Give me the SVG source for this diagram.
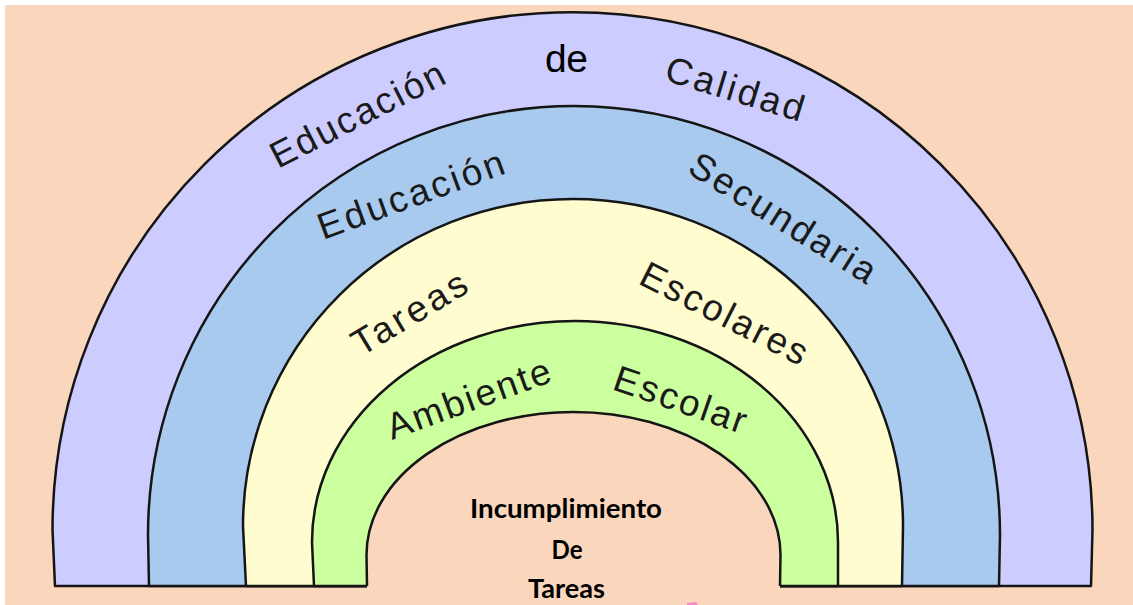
<svg xmlns="http://www.w3.org/2000/svg" width="1133" height="605" viewBox="0 0 1133 605">
  <style>
    .ring { stroke: #151515; stroke-width: 2.5; stroke-linejoin: round; }
    .edge { fill: none; stroke: #151515; stroke-width: 2.5; stroke-linejoin: round; }
    .lbl { font-family: "Liberation Sans", Arial, sans-serif; font-size: 37px; fill: #1a1a1a; }
    .core { font-family: Lato, "Open Sans", sans-serif; font-weight: bold; font-size: 27px; fill: #000; text-anchor: middle; }
  </style>
  <rect x="0" y="0" width="1133" height="605" fill="#ffffff"/>
  <rect x="5" y="5" width="1128" height="600" fill="#F9D6BC"/>

  <g id="ring-calidad">
    <path class="ring" fill="#CCCCFF" d="M55,586 L52.5,530 A520,518 0 0 1 1092.5,530 L1091,586 Z"/>
    <text class="lbl" transform="translate(278,169) rotate(-27)" textLength="191" lengthAdjust="spacing">Educación</text>
    <text class="lbl" x="545" y="72" style="font-size:39px;fill:#000" textLength="43" lengthAdjust="spacing">de</text>
    <text class="lbl" transform="translate(663,80) rotate(17)" textLength="143" lengthAdjust="spacing">Calidad</text>
  </g>

  <g id="ring-secundaria">
    <path class="ring" fill="#A7CAEE" d="M149,586 L148,535 A426,429 0 0 1 1000,535 L999,586 Z"/>
    <text class="lbl" transform="translate(323,240) rotate(-20)" textLength="196" lengthAdjust="spacing">Educación</text>
    <text class="lbl" transform="translate(686,172) rotate(32)" textLength="213" lengthAdjust="spacing">Secundaria</text>
  </g>

  <g id="ring-tareas">
    <path class="ring" fill="#FFFCCF" d="M246,586 L243,526 A330,327 0 0 1 903,526 L902,586 Z"/>
    <text class="lbl" transform="translate(361,357) rotate(-31)" textLength="128" lengthAdjust="spacing">Tareas</text>
    <text class="lbl" transform="translate(637,283) rotate(27)" textLength="183" lengthAdjust="spacing">Escolares</text>
  </g>

  <g id="ring-ambiente">
    <path class="ring" fill="#CCFF9D" d="M314,586 L312,542 A263,221 0 0 1 838,542 L838,586 Z"/>
    <text class="lbl" transform="translate(392,440) rotate(-20)" textLength="172" lengthAdjust="spacing">Ambiente</text>
    <text class="lbl" transform="translate(611,389) rotate(19)" textLength="138" lengthAdjust="spacing">Escolar</text>
  </g>

  <g id="core-incumplimiento">
    <path fill="#F9D6BC" d="M367,590 L367,586 L366.5,555 A207,143 0 0 1 780.5,555 L780,586 L780,590 Z"/>
    <path class="edge" d="M367,586 L366.5,555 A207,143 0 0 1 780.5,555 L780,586"/>
    <text class="core" x="566" y="518" textLength="192" lengthAdjust="spacingAndGlyphs">Incumplimiento</text>
    <text class="core" x="567" y="559" textLength="31" lengthAdjust="spacingAndGlyphs">De</text>
    <text class="core" x="566.5" y="598" textLength="77" lengthAdjust="spacingAndGlyphs">Tareas</text>
  </g>

  <g id="connectors"></g>

  <path d="M687,603 L696,602 L698,605 L687,605 Z" fill="#F07AC8" opacity="0.8"/>
</svg>
